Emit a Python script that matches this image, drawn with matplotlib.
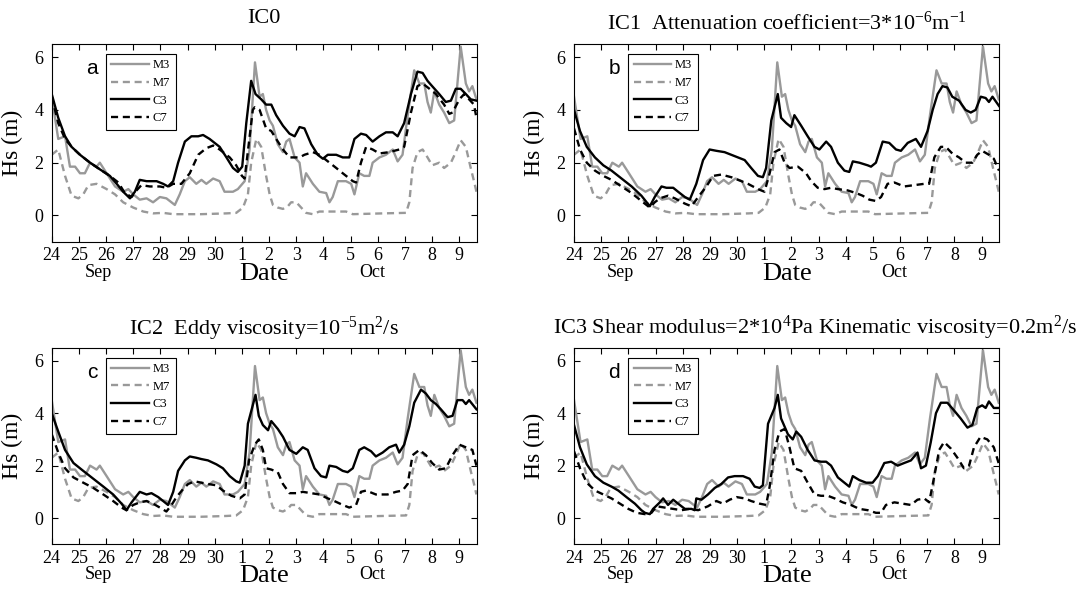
import matplotlib
matplotlib.use('Agg')
import matplotlib.pyplot as plt
import matplotlib.transforms as mtransforms

plt.rcParams['font.family'] = ['Liberation Serif', 'DejaVu Serif']
plt.rcParams['mathtext.fontset'] = 'custom'
plt.rcParams['mathtext.rm'] = 'Liberation Serif'
plt.rcParams['mathtext.it'] = 'Liberation Serif:italic'

# x axis: days since 24 Sep
day_ticks = list(range(16))
day_labels = ['24', '25', '26', '27', '28', '29', '30', '1', '2', '3', '4', '5', '6', '7', '8', '9']

# observations (same in every panel)
t_m3 = [0, 0.24, 0.49, 0.67, 0.86, 1.04, 1.22, 1.41, 1.65, 1.77, 2.02, 2.33, 2.63, 2.82, 3.0, 3.24,
        3.49, 3.73, 3.98, 4.22, 4.53, 4.71, 4.9, 5.08, 5.32, 5.51, 5.69, 5.94, 6.18, 6.36, 6.67, 6.85,
        7.1, 7.28, 7.48, 7.65, 7.77, 7.89, 8.02, 8.14, 8.32, 8.51, 8.63, 8.75, 8.94, 9.12, 9.24, 9.36,
        9.61, 9.85, 10.1, 10.22, 10.34, 10.53, 10.83, 11.02, 11.14, 11.32, 11.5, 11.69, 11.81, 12.06,
        12.3, 12.55, 12.73, 12.91, 13.1, 13.34, 13.53, 13.71, 13.83, 13.95, 14.08, 14.26, 14.44, 14.63,
        14.81, 15.05, 15.24, 15.36, 15.48, 15.63]
m3 = [4.5, 2.9, 3.0, 1.85, 1.85, 1.6, 1.6, 2.0, 1.85, 2.0, 1.6, 1.1, 0.9, 1.0, 0.8, 0.6,
      0.65, 0.5, 0.7, 0.65, 0.4, 0.8, 1.3, 1.45, 1.2, 1.35, 1.2, 1.4, 1.3, 0.9, 0.9, 1.0,
      1.3, 2.5, 5.8, 4.5, 4.6, 4.0, 3.6, 3.4, 2.7, 2.4, 2.8, 2.9, 2.2, 2.0, 1.1, 1.6,
      1.2, 0.9, 0.85, 0.5, 0.7, 1.3, 1.3, 1.2, 0.8, 1.6, 1.5, 1.5, 2.0, 2.2,
      2.3, 2.5, 2.05, 2.3, 3.8, 5.5, 5.0, 5.0, 4.3, 3.9, 4.7, 4.2, 3.9, 3.5,
      3.6, 6.4, 5.0, 4.7, 4.9, 4.4]

t_m7 = [0, 0.24, 0.49, 0.73, 0.98, 1.16, 1.35, 1.65, 2.02, 2.33, 2.63, 3.0, 3.37, 3.73, 4.1, 4.47,
        5.5, 6.43, 6.79, 7.04, 7.22, 7.34, 7.53, 7.71, 7.89, 8.02, 8.14, 8.32, 8.51, 8.69, 8.81, 9.0,
        9.18, 9.36, 9.61, 9.85, 10.83, 11.08, 12.18, 13.04, 13.16, 13.28, 13.46, 13.65, 13.83, 14.0,
        14.26, 14.44, 14.69, 14.87, 15.05, 15.24, 15.42, 15.54, 15.63]
m7 = [2.3, 2.5, 1.5, 0.75, 0.65, 0.8, 1.15, 1.2, 1.0, 0.8, 0.5, 0.3, 0.15, 0.08, 0.1, 0.05,
      0.05, 0.08, 0.1, 0.3, 0.8, 2.0, 2.9, 2.6, 1.5, 0.8, 0.4, 0.3, 0.25, 0.35, 0.5, 0.5,
      0.3, 0.1, 0.05, 0.15, 0.15, 0.05, 0.08, 0.1, 0.5, 1.8, 2.4, 2.5, 2.2, 1.9,
      2.0, 1.8, 2.0, 2.4, 2.85, 2.6, 1.8, 1.3, 0.9]

# IC0
t_c3_a = [0, 0.24, 0.49, 0.73, 1.04, 1.41, 1.77, 2.14, 2.39, 2.63, 2.88, 3.06, 3.24, 3.49, 3.86,
          4.1, 4.28, 4.47, 4.65, 4.9, 5.14, 5.39, 5.57, 5.81, 6.18, 6.43, 6.67, 6.85, 7.01, 7.16,
          7.34, 7.5, 7.71, 7.89, 8.08, 8.26, 8.51, 8.75, 8.94, 9.12, 9.3, 9.55, 9.79, 9.98, 10.16,
          10.47, 10.71, 10.95, 11.14, 11.38, 11.57, 11.81, 12.06, 12.3, 12.55, 12.73, 12.97, 13.22,
          13.46, 13.65, 13.83, 14.0, 14.26, 14.5, 14.69, 14.87, 15.05, 15.24, 15.42, 15.63]
c3_a = [4.6, 3.7, 3.0, 2.6, 2.3, 2.0, 1.75, 1.5, 1.2, 0.9, 0.65, 0.9, 1.35, 1.3, 1.3,
        1.2, 1.1, 1.3, 2.0, 2.8, 3.0, 3.0, 3.05, 2.9, 2.6, 2.2, 1.8, 1.65, 1.85, 3.5,
        5.1, 4.6, 4.4, 4.2, 4.2, 3.8, 3.4, 3.1, 3.0, 3.35, 3.3, 2.7, 2.3, 2.15, 2.3,
        2.3, 2.2, 2.2, 2.9, 3.1, 3.05, 2.8, 3.0, 3.15, 3.15, 3.0, 3.5, 4.6,
        5.45, 5.4, 5.1, 4.9, 4.6, 4.3, 4.35, 4.8, 4.8, 4.6, 4.4, 4.35]
t_c7_a = [0, 0.24, 0.49, 0.73, 1.04, 1.41, 1.77, 2.14, 2.45, 2.69, 2.94, 3.12, 3.3, 3.61, 3.98,
          4.22, 4.47, 4.77, 5.08, 5.39, 5.69, 5.94, 6.18, 6.55, 6.79, 7.0, 7.1, 7.4, 7.47, 7.65,
          7.89, 8.08, 8.26, 8.51, 8.75, 9.12, 9.3, 9.61, 9.85, 10.1, 10.47, 10.71, 11.08, 11.2, 11.38,
          11.57, 11.81, 12.06, 12.42, 12.79, 12.97, 13.22, 13.46, 13.65, 13.9, 14.14, 14.44, 14.63,
          14.75, 15.0, 15.18, 15.36, 15.54, 15.63]
c7_a = [4.5, 3.5, 2.9, 2.6, 2.3, 2.0, 1.75, 1.5, 1.25, 0.85, 0.7, 0.95, 1.15, 1.1, 1.1,
        1.05, 1.2, 1.2, 1.6, 2.3, 2.55, 2.65, 2.5, 2.2, 1.9, 1.5, 1.4, 4.0, 4.1, 4.0,
        3.3, 3.2, 2.9, 2.5, 2.2, 2.2, 2.3, 2.4, 2.3, 2.1, 1.8, 1.6, 1.3, 1.25, 2.0,
        2.6, 2.5, 2.35, 2.4, 2.5, 2.6, 3.9, 4.9, 5.0, 4.8, 4.6, 4.2, 3.85,
        3.9, 4.4, 4.6, 4.4, 4.2, 3.7]

# IC1
t_c3_b = [0, 0.22, 0.47, 0.77, 1.08, 1.38, 1.75, 2.12, 2.48, 2.79, 2.97, 3.22, 3.4, 3.65, 3.83,
          4.08, 4.26, 4.5, 4.75, 4.99, 5.24, 5.54, 5.91, 6.28, 6.52, 6.77, 6.95, 7.07, 7.26, 7.5,
          7.62, 7.81, 7.99, 8.11, 8.36, 8.6, 8.85, 9.03, 9.28, 9.46, 9.71, 9.95, 10.13, 10.26, 10.5,
          10.81, 10.93, 11.11, 11.36, 11.6, 11.85, 12.03, 12.28, 12.58, 12.77, 13.01, 13.2, 13.38,
          13.56, 13.74, 13.92, 14.17, 14.41, 14.6, 14.78, 14.97, 15.15, 15.27, 15.4, 15.64]
c3_b = [4.0, 3.2, 2.6, 2.2, 1.9, 1.7, 1.4, 1.1, 0.75, 0.35, 0.7, 1.1, 1.05, 1.05, 0.9,
        0.7, 0.6, 1.2, 2.1, 2.5, 2.45, 2.4, 2.25, 2.1, 1.8, 1.5, 1.45, 1.8, 3.6, 4.6,
        3.7, 3.5, 3.35, 3.8, 3.4, 3.0, 2.6, 2.5, 2.8, 2.6, 2.0, 1.7, 1.65, 2.05, 2.0,
        1.9, 1.85, 2.0, 2.8, 2.75, 2.5, 2.45, 2.75, 2.9, 2.6, 3.2, 4.0, 4.6,
        4.9, 4.85, 4.5, 4.35, 4.0, 3.9, 4.0, 4.5, 4.45, 4.3, 4.5, 4.15]
t_c7_b = [0, 0.22, 0.47, 0.77, 1.08, 1.38, 1.75, 2.12, 2.48, 2.79, 2.97, 3.16, 3.46, 3.71, 4.08,
          4.32, 4.57, 4.87, 5.12, 5.42, 5.79, 6.16, 6.4, 6.77, 7.01, 7.2, 7.38, 7.56, 7.75, 7.93,
          8.24, 8.54, 8.73, 8.97, 9.22, 9.46, 9.71, 10.07, 10.38, 10.62, 10.87, 11.11, 11.3, 11.54,
          11.79, 12.15, 12.52, 12.89, 13.07, 13.26, 13.5, 13.68, 13.92, 14.17, 14.41, 14.66, 14.84,
          15.02, 15.27, 15.45, 15.64]
c7_b = [3.3, 2.5, 2.0, 1.7, 1.5, 1.35, 1.1, 0.85, 0.55, 0.3, 0.5, 0.65, 0.75, 0.65, 0.45,
        0.35, 0.7, 1.1, 1.5, 1.55, 1.45, 1.3, 1.2, 1.0, 0.9, 1.6, 2.4, 2.5, 2.0, 1.8,
        1.85, 1.6, 1.3, 1.05, 1.0, 1.05, 1.0, 0.95, 0.85, 0.75, 0.6, 0.55, 0.7, 1.2,
        1.25, 1.1, 1.15, 1.2, 1.2, 2.2, 2.6, 2.6, 2.35, 2.2, 2.0, 2.0, 2.3,
        2.45, 2.3, 2.15, 1.7]

# IC2
t_c3_c = [0, 0.24, 0.49, 0.8, 1.16, 1.53, 1.9, 2.26, 2.57, 2.75, 2.94, 3.24, 3.49, 3.67, 3.92,
          4.16, 4.28, 4.47, 4.65, 4.9, 5.08, 5.32, 5.51, 5.75, 6.06, 6.3, 6.55, 6.79, 6.92, 7.1,
          7.22, 7.5, 7.62, 7.77, 7.96, 8.08, 8.32, 8.51, 8.75, 9.0, 9.24, 9.42, 9.67, 9.91, 10.1,
          10.22, 10.47, 10.71, 10.89, 11.08, 11.32, 11.5, 11.75, 11.93, 12.18, 12.42, 12.67, 12.79,
          12.97, 13.16, 13.34, 13.59, 13.77, 13.95, 14.14, 14.32, 14.57, 14.75, 14.93, 15.12,
          15.24, 15.36, 15.63]
c3_c = [4.0, 3.3, 2.6, 2.1, 1.8, 1.5, 1.2, 0.9, 0.55, 0.3, 0.6, 1.0, 0.9, 0.95, 0.8,
        0.6, 0.5, 1.0, 1.8, 2.2, 2.35, 2.3, 2.25, 2.2, 2.05, 1.9, 1.6, 1.4, 1.35, 2.0,
        3.6, 4.7, 3.9, 3.55, 3.35, 3.7, 3.4, 3.1, 2.6, 2.45, 2.7, 2.6, 1.9, 1.6, 1.55,
        2.0, 1.95, 1.8, 1.75, 1.9, 2.6, 2.7, 2.55, 2.35, 2.5, 2.7, 2.8, 2.5,
        2.8, 3.5, 4.4, 4.9, 4.75, 4.5, 4.35, 4.15, 3.85, 3.9, 4.5, 4.5,
        4.35, 4.5, 4.15]
t_c7_c = [0, 0.24, 0.49, 0.8, 1.16, 1.53, 1.9, 2.26, 2.57, 2.75, 3.0, 3.24, 3.49, 3.73, 3.98,
          4.22, 4.41, 4.59, 4.83, 5.02, 5.26, 5.51, 5.75, 6.06, 6.3, 6.61, 6.92, 7.1, 7.26, 7.47,
          7.62, 7.77, 7.89, 8.08, 8.32, 8.51, 8.75, 9.0, 9.24, 9.55, 9.85, 10.16, 10.4, 10.71, 10.95,
          11.2, 11.38, 11.57, 11.93, 12.36, 12.67, 12.91, 13.1, 13.28, 13.53, 13.77, 14.0, 14.26,
          14.5, 14.75, 15.0, 15.24, 15.48, 15.63]
c7_c = [3.2, 2.5, 1.9, 1.55, 1.35, 1.15, 0.9, 0.65, 0.4, 0.3, 0.5, 0.6, 0.65, 0.55, 0.4,
        0.25, 0.5, 0.8, 1.1, 1.3, 1.4, 1.35, 1.3, 1.25, 1.05, 0.85, 0.75, 0.9, 2.2, 2.8,
        3.0, 2.6, 1.9, 1.85, 1.75, 1.3, 0.95, 0.95, 1.0, 0.95, 0.9, 0.75, 0.65, 0.5, 0.4,
        0.5, 1.0, 1.05, 0.9, 0.9, 1.0, 1.05, 1.3, 2.4, 2.6, 2.4, 2.1, 1.85,
        1.9, 2.4, 2.8, 2.7, 2.6, 2.0]

# IC3
t_c3_d = [0, 0.22, 0.47, 0.77, 1.08, 1.38, 1.63, 1.93, 2.24, 2.48, 2.61, 2.79, 2.91, 3.16, 3.28,
          3.46, 3.65, 3.83, 4.08, 4.32, 4.44, 4.5, 4.69, 4.93, 5.18, 5.42, 5.67, 5.91, 6.22, 6.46,
          6.65, 6.83, 6.95, 7.14, 7.38, 7.5, 7.62, 7.87, 8.05, 8.18, 8.36, 8.6, 8.85, 9.09, 9.28,
          9.46, 9.71, 9.95, 10.13, 10.26, 10.5, 10.75, 10.99, 11.18, 11.42, 11.67, 11.91, 12.15,
          12.4, 12.64, 12.77, 12.95, 13.13, 13.32, 13.5, 13.74, 13.99, 14.23, 14.48, 14.66,
          14.84, 15.02, 15.15, 15.27, 15.45, 15.64]
c3_d = [3.55, 2.7, 2.05, 1.6, 1.35, 1.2, 1.05, 0.8, 0.55, 0.3, 0.2, 0.15, 0.35, 0.6, 0.75,
        0.5, 0.7, 0.55, 0.35, 0.35, 0.3, 0.75, 0.7, 0.9, 1.15, 1.3, 1.55, 1.6, 1.6, 1.5,
        1.2, 1.15, 1.25, 3.6, 4.2, 4.7, 3.8, 3.2, 3.0, 3.3, 3.1, 2.6, 2.2, 2.15, 2.15,
        2.0, 1.55, 1.35, 1.2, 1.6, 1.45, 1.35, 1.35, 1.6, 2.1, 2.15, 2.0, 2.1,
        2.2, 2.5, 1.9, 2.0, 2.9, 4.0, 4.4, 4.4, 4.1, 3.8, 3.45, 3.55,
        4.2, 4.3, 4.2, 4.45, 4.2, 4.2]
t_c7_d = [0, 0.22, 0.47, 0.77, 1.08, 1.38, 1.69, 2.0, 2.31, 2.61, 2.85, 3.04, 3.34, 3.65, 3.95,
          4.26, 4.57, 4.93, 5.24, 5.48, 5.73, 5.98, 6.28, 6.52, 6.83, 7.07, 7.2, 7.38, 7.56, 7.75,
          7.93, 8.11, 8.36, 8.6, 8.85, 9.09, 9.34, 9.59, 9.89, 10.19, 10.5, 10.81, 11.11, 11.3,
          11.48, 11.79, 12.09, 12.4, 12.64, 12.89, 13.07, 13.26, 13.44, 13.62, 13.87, 14.11, 14.35,
          14.54, 14.72, 14.96, 15.21, 15.45, 15.64]
c7_d = [2.55, 1.9, 1.35, 1.05, 0.9, 0.75, 0.55, 0.35, 0.2, 0.15, 0.2, 0.45, 0.4, 0.35, 0.3,
        0.35, 0.3, 0.45, 0.65, 0.55, 0.7, 0.8, 0.75, 0.65, 0.55, 0.5, 1.2, 2.6, 3.3, 3.4,
        2.7, 1.9, 1.8, 1.35, 0.9, 0.85, 0.85, 0.75, 0.6, 0.5, 0.35, 0.3, 0.2, 0.2,
        0.5, 0.6, 0.55, 0.5, 0.7, 0.75, 0.6, 1.6, 2.6, 2.9, 2.65, 2.3, 1.9,
        2.0, 2.7, 3.1, 3.0, 2.7, 2.05]

titles = ['IC0',
          'IC1  Attenuation coefficient=3*10$^{-6}$m$^{-1}$',
          'IC2  Eddy viscosity=10$^{-5}$m$^{2}$/s',
          'IC3 Shear modulus=2*10$^{4}$Pa Kinematic viscosity=0.2m$^{2}$/s']
letters = ['a', 'b', 'c', 'd']
model_runs = [(t_c3_a, c3_a, t_c7_a, c7_a),
              (t_c3_b, c3_b, t_c7_b, c7_b),
              (t_c3_c, c3_c, t_c7_c, c7_c),
              (t_c3_d, c3_d, t_c7_d, c7_d)]

# axes positions [left, bottom, width, height] in figure fraction
positions = [[0.0475, 0.590, 0.3905, 0.3356],
             [0.5271, 0.590, 0.3905, 0.3356],
             [0.0475, 0.0775, 0.3905, 0.3332],
             [0.5271, 0.0775, 0.3905, 0.3332]]
title_pad = [15, 10, 9, 10]
title_x = [0.5, 0.5, 0.5, 0.568]

gray = '0.6'
fig = plt.figure(figsize=(10.89, 5.9), dpi=100)

for i in range(4):
    ax = fig.add_axes(positions[i])
    t3, v3, t7, v7 = model_runs[i]
    ax.plot(t_m3, m3, color=gray, lw=1.7, label='M3')
    ax.plot(t_m7, m7, color=gray, lw=1.7, ls=(0, (3, 2)), label='M7')
    ax.plot(t3, v3, color='k', lw=1.7, label='C3')
    ax.plot(t7, v7, color='k', lw=1.7, ls=(0, (3, 2)), label='C7')

    ax.set_xlim(0, 15.65)
    ax.set_ylim(-1, 6.5)
    ax.set_xticks(day_ticks)
    ax.set_xticklabels(day_labels)
    ax.set_yticks([0, 2, 4, 6])
    ax.tick_params(direction='in', length=4, width=0.8, top=True, right=True,
                   labelsize=13, pad=4)
    ax.tick_params(axis='y', pad=6)
    for sp in ax.spines.values():
        sp.set_linewidth(0.8)

    ax.set_title(titles[i], fontsize=16, pad=title_pad[i], x=title_x[i])
    ax.set_ylabel('Hs (m)', fontsize=17)
    ax.yaxis.set_label_coords(-0.068, 0.5)
    ax.set_xlabel('Date', fontsize=19)
    ax.xaxis.set_label_coords(0.5, -0.105)

    # month names under the day labels
    trans = mtransforms.blended_transform_factory(ax.transData, ax.transAxes)
    ax.text(1.7, -0.155, 'Sep', transform=trans, ha='center', va='center', fontsize=13)
    ax.text(11.8, -0.155, 'Oct', transform=trans, ha='center', va='center', fontsize=13)

    ax.text(0.095, 0.875, letters[i], transform=ax.transAxes, ha='center', va='center',
            fontsize=15, family=['Liberation Sans', 'DejaVu Sans'])

    leg = ax.legend(loc='upper left', bbox_to_anchor=(0.127, 0.95), fontsize=9,
                    handlelength=3.0, handletextpad=0.3, labelspacing=0.45,
                    borderpad=0.45, borderaxespad=0, fancybox=False, framealpha=1)
    leg.get_frame().set_edgecolor('k')
    leg.get_frame().set_linewidth(0.8)

plt.savefig('out.png', dpi=100)
